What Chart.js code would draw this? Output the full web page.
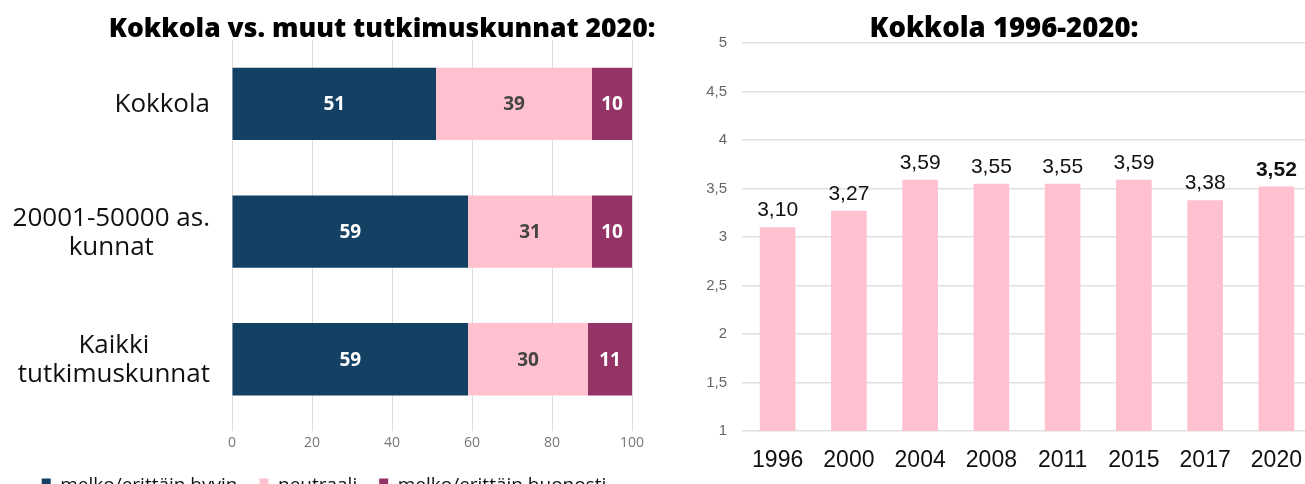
<!DOCTYPE html>
<html lang="fi">
<head>
<meta charset="utf-8">
<title>Kokkola 2020</title>
<script src="https://cdn.jsdelivr.net/npm/chart.js@4.4.1/dist/chart.umd.min.js"></script>
<style>
  html, body { margin: 0; padding: 0; background: #fff; }
  body { width: 1305px; height: 484px; overflow: hidden; position: relative; }
  canvas { position: absolute; top: 0; }
  #vasen { left: 0; }
  #oikea { left: 680px; }
  .otsikko {
    position: absolute; top: 9px; margin: 0;
    font-family: "Open Sans", sans-serif; font-weight: 800; font-size: 26.5px;
    color: #000; white-space: nowrap; transform: translateX(-50%);
  }
  #otsikko1 { left: 382px; }
  #otsikko2 { left: 1004px; font-size: 27.5px; top: 8px; }
</style>
</head>
<body>
<canvas id="vasen" width="670" height="505"></canvas>
<canvas id="oikea" width="640" height="484"></canvas>
<h2 class="otsikko" id="otsikko1">Kokkola vs. muut tutkimuskunnat 2020:</h2>
<h2 class="otsikko" id="otsikko2">Kokkola 1996-2020:</h2>

<script>
// Vertailu: osuudet (%)
const ryhmat = [["Kokkola"], ["20001-50000 as.", "kunnat"], ["Kaikki", "tutkimuskunnat"]];
const hyvin = [51, 59, 59];
const neutraali = [39, 31, 30];
const huonosti = [10, 10, 11];
const xTicks = [0, 20, 40, 60, 80, 100];

// Kokkolan keskiarvot vuosittain
const vuodet = ["1996", "2000", "2004", "2008", "2011", "2015", "2017", "2020"];
const keskiarvot = [3.10, 3.27, 3.59, 3.55, 3.55, 3.59, 3.38, 3.52];

const navy = "#134163";
const pinkki = "#ffc0cf";
const violetti = "#933366";

// Arvot palkkien sisään
const arvotSisalle = {
    id: "arvotSisalle",
    afterDatasetsDraw(chart) {
        const ctx = chart.ctx;
        ctx.save();
        ctx.font = "700 19px 'Open Sans', sans-serif";
        ctx.textAlign = "center";
        ctx.textBaseline = "middle";
        chart.data.datasets.forEach((ds, i) => {
            chart.getDatasetMeta(i).data.forEach((bar, j) => {
                const p = bar.getProps(["x", "y", "base"], true);
                ctx.fillStyle = ds.labelColor;
                ctx.fillText(ds.data[j], (p.x + p.base) / 2, p.y + 1);
            });
        });
        ctx.restore();
    }
};

// Ryhmien nimet: oikealle tasattu lohko, rivit keskitetty lohkon sisällä
const ryhmaNimet = {
    id: "ryhmaNimet",
    afterDraw(chart) {
        const ctx = chart.ctx;
        const y = chart.scales.y;
        const oikea = chart.chartArea.left - 22;
        const riviKorkeus = 29;
        ctx.save();
        ctx.font = "400 26px 'Open Sans', sans-serif";
        ctx.fillStyle = "#111";
        ctx.textAlign = "center";
        ctx.textBaseline = "middle";
        ryhmat.forEach((rivit, i) => {
            const leveys = Math.max(...rivit.map(r => ctx.measureText(r).width));
            const keski = y.getPixelForTick(i);
            const alku = keski - (rivit.length - 1) * riviKorkeus / 2;
            rivit.forEach((r, k) => ctx.fillText(r, oikea - leveys / 2, alku + k * riviKorkeus + 1));
        });
        ctx.restore();
    }
};

// Arvot palkkien yläpuolelle, viimeinen lihavoituna
const arvotYlle = {
    id: "arvotYlle",
    afterDatasetsDraw(chart) {
        const ctx = chart.ctx;
        const meta = chart.getDatasetMeta(0);
        ctx.save();
        ctx.textAlign = "center";
        ctx.textBaseline = "alphabetic";
        ctx.fillStyle = "#111";
        meta.data.forEach((bar, j) => {
            const viimeinen = j === meta.data.length - 1;
            ctx.font = (viimeinen ? "700 " : "400 ") + "21px 'Liberation Sans', Arial, sans-serif";
            const teksti = keskiarvot[j].toFixed(2).replace(".", ",");
            ctx.fillText(teksti, bar.x, bar.y - 11);
        });
        ctx.restore();
    }
};

new Chart(document.getElementById("vasen"), {
    type: "bar",
    data: {
        labels: ryhmat,
        datasets: [
            { label: "melko/erittäin hyvin", data: hyvin, backgroundColor: navy, labelColor: "#fff" },
            { label: "neutraali", data: neutraali, backgroundColor: pinkki, labelColor: "#444" },
            { label: "melko/erittäin huonosti", data: huonosti, backgroundColor: violetti, labelColor: "#fff" }
        ]
    },
    options: {
        indexAxis: "y",
        responsive: false,
        animation: false,
        datasets: { bar: { categoryPercentage: 1, barPercentage: 0.567 } },
        layout: { padding: { top: 40, left: 16, right: 38, bottom: 0 } },
        plugins: {
            tooltip: { enabled: false },
            legend: {
                position: "bottom",
                labels: {
                    boxWidth: 9,
                    boxHeight: 14,
                    padding: 22,
                    color: "#111",
                    font: { family: "'Open Sans', sans-serif", size: 19 }
                }
            }
        },
        scales: {
            x: {
                stacked: true,
                min: 0,
                max: 100,
                afterBuildTicks: s => { s.ticks = xTicks.map(v => ({ value: v })); },
                grid: { color: "#dcdcdc", tickLength: 8 },
                border: { display: false },
                ticks: { color: "#777", padding: 3, font: { family: "'Open Sans', sans-serif", size: 14 } }
            },
            y: {
                stacked: true,
                afterFit: s => { s.width = 216; },
                grid: { display: false },
                border: { display: false },
                ticks: { display: false }
            }
        }
    },
    plugins: [arvotSisalle, ryhmaNimet]
});

new Chart(document.getElementById("oikea"), {
    type: "bar",
    data: {
        labels: vuodet,
        datasets: [{ data: keskiarvot, backgroundColor: pinkki, categoryPercentage: 1, barPercentage: 0.5 }]
    },
    options: {
        responsive: false,
        animation: false,
        layout: { padding: { top: 43, left: 17, right: 8, bottom: 0 } },
        plugins: { legend: { display: false }, tooltip: { enabled: false } },
        scales: {
            x: {
                afterFit: s => { s.height = 53; },
                grid: { display: false, drawTicks: false },
                border: { display: false },
                ticks: { color: "#111", padding: 16, font: { family: "'Liberation Sans', Arial, sans-serif", size: 23 } }
            },
            y: {
                min: 1,
                max: 5,
                afterFit: s => { s.width = 45; },
                grid: { color: "#e0e0e0", lineWidth: 1.5, drawTicks: false },
                border: { display: false },
                ticks: {
                    stepSize: 0.5,
                    padding: 15,
                    color: "#666",
                    font: { family: "'Liberation Sans', Arial, sans-serif", size: 15 },
                    callback: v => String(v).replace(".", ",")
                }
            }
        }
    },
    plugins: [arvotYlle]
});
</script>
</body>
</html>
